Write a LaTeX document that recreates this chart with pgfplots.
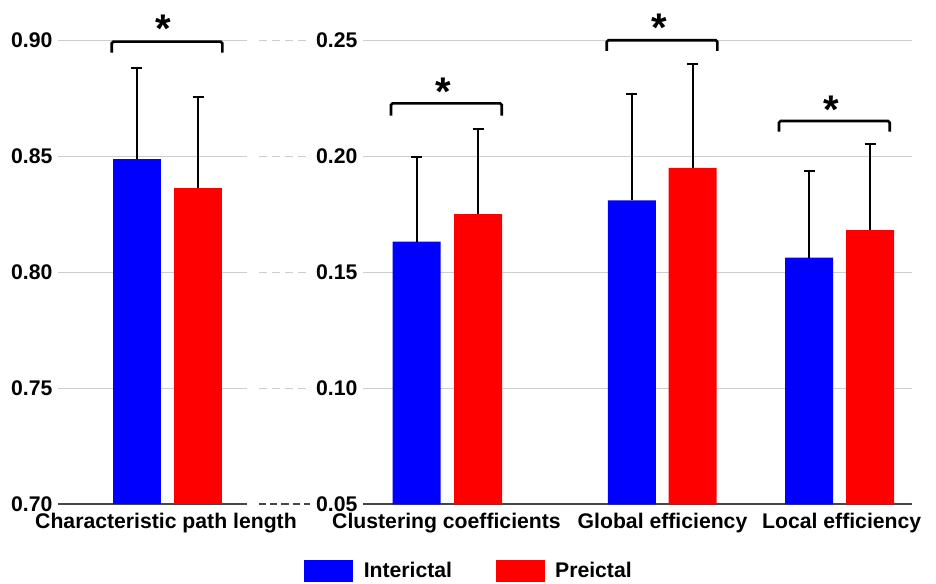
\documentclass[border=0pt]{standalone}
\usepackage{fontspec}
\setmainfont{Liberation Sans}
\usepackage{pgfplots}
\pgfplotsset{compat=1.18}

\definecolor{gridgray}{RGB}{205,205,205}
\definecolor{axisgray}{RGB}{70,70,70}
\definecolor{barblue}{RGB}{0,0,255}
\definecolor{barred}{RGB}{255,0,0}

\newcommand{\lblfont}{\fontsize{10.6}{12}\selectfont\bfseries}

\tikzset{
  star/.style={anchor=base, inner sep=0pt, yshift=-11.6pt, font=\fontsize{20}{22}\selectfont\bfseries},
  bracket/.style={line width=1.3pt, black, rounded corners=0.8pt},
  gdash/.style={gridgray, line width=0.7pt, dash pattern=on 4pt off 2.5pt},
}

\pgfplotsset{
  panel/.style={
    scale only axis,
    height=232pt,
    clip mode=individual,
    axis y line*=left,
    axis x line*=bottom,
    y axis line style={draw=none},
    x axis line style={draw=axisgray, line width=1pt, -},
    major tick length=0pt,
    ymajorgrids,
    grid style={gridgray, line width=0.6pt},
    tick label style={font=\lblfont},
    yticklabel style={/pgf/number format/fixed, /pgf/number format/fixed zerofill, /pgf/number format/precision=2, /pgf/number format/assume math mode=true},
    scaled y ticks=false,
    yticklabel style={inner xsep=0pt, xshift=-2.6pt},
    xticklabel style={inner ysep=0pt, yshift=-4.1pt},
  },
  errstyle/.style={
    error bars/y dir=plus, error bars/y explicit,
    error bars/error bar style={line width=1pt, black},
    error bars/error mark options={rotate=90, line width=1pt, black, mark size=2.75pt}},
  bluebar/.style={ybar, bar width=0.48, bar shift=0pt, fill=barblue, draw=none, errstyle},
  redbar/.style={ybar, bar width=0.48, bar shift=0pt, fill=barred, draw=none, errstyle},
}

\begin{document}
\begin{tikzpicture}
% ---------------- left panel ----------------
\begin{axis}[panel,
  width=94.5pt,
  xmin=0, xmax=1.89,
  ymin=0.70, ymax=0.90,
  ytick={0.70,0.75,0.80,0.85,0.90},
  xtick={1.08},
  xticklabels={Characteristic path length},
]
\addplot[bluebar] coordinates {(0.788,0.8487) +- (0,0.0395)};
\addplot[redbar] coordinates {(1.400,0.8365) +- (0,0.0392)};
% significance bracket
\draw[bracket] (axis cs:0.537,0.8947) -- (axis cs:0.537,0.8994) -- (axis cs:1.643,0.8994) -- (axis cs:1.643,0.8947);
\node[star] at (axis cs:1.053,0.9091) {*};
% broken-axis dashes
\draw[gdash] (axis cs:2.01,0.90) -- (axis cs:2.52,0.90);
\draw[gdash] (axis cs:2.01,0.85) -- (axis cs:2.52,0.85);
\draw[gdash] (axis cs:2.01,0.80) -- (axis cs:2.52,0.80);
\draw[gdash] (axis cs:2.01,0.75) -- (axis cs:2.52,0.75);
\draw[axisgray, line width=1pt, dash pattern=on 3.6pt off 2pt] (axis cs:2.01,0.70) -- (axis cs:2.52,0.70);
\end{axis}

% ---------------- right panel ----------------
\begin{axis}[panel,
  at={(152.5pt,0pt)}, anchor=south west,
  width=274.5pt,
  xmin=0, xmax=5.49,
  ymin=0.05, ymax=0.25,
  ytick={0.05,0.10,0.15,0.20,0.25},
  xtick={0.835,2.995,4.787},
  xticklabels={Clustering coefficients, Global efficiency, Local efficiency},
  legend style={at={(rel axis cs:0.201,-0.1437)}, anchor=center, draw=none, fill=none,
    legend columns=2, font=\lblfont,
    /tikz/every even column/.append style={column sep=16.5pt},
    nodes={inner xsep=5.3pt}},
]
\addplot[bluebar, forget plot] coordinates {(0.535,0.1632) +- (0,0.0366) (2.688,0.1810) +- (0,0.0457) (4.460,0.1563) +- (0,0.0374)};
\addplot[redbar, forget plot] coordinates {(1.152,0.1751) +- (0,0.0368) (3.297,0.1950) +- (0,0.0448) (5.072,0.1682) +- (0,0.0370)};
\addlegendimage{legend image code/.code={\fill[barblue] (0pt,-5.25pt) rectangle (24pt,5.25pt);}}
\addlegendentry{Interictal}
\addlegendimage{legend image code/.code={\fill[barred] (0pt,-5.25pt) rectangle (24pt,5.25pt);}}
\addlegendentry{Preictal}
% brackets
\draw[bracket] (axis cs:0.280,0.2175) -- (axis cs:0.280,0.2228) -- (axis cs:1.387,0.2228) -- (axis cs:1.387,0.2175);
\node[star] at (axis cs:0.803,0.2317) {*};
\draw[bracket] (axis cs:2.437,0.2454) -- (axis cs:2.437,0.2500) -- (axis cs:3.543,0.2500) -- (axis cs:3.543,0.2454);
\node[star] at (axis cs:2.960,0.2595) {*};
\draw[bracket] (axis cs:4.160,0.2106) -- (axis cs:4.160,0.2152) -- (axis cs:5.267,0.2152) -- (axis cs:5.267,0.2106);
\node[star] at (axis cs:4.680,0.2243) {*};
\end{axis}

\pgfresetboundingbox
\path[use as bounding box] (-29pt,-39.35pt) rectangle (439pt,252.15pt);
\end{tikzpicture}
\end{document}
